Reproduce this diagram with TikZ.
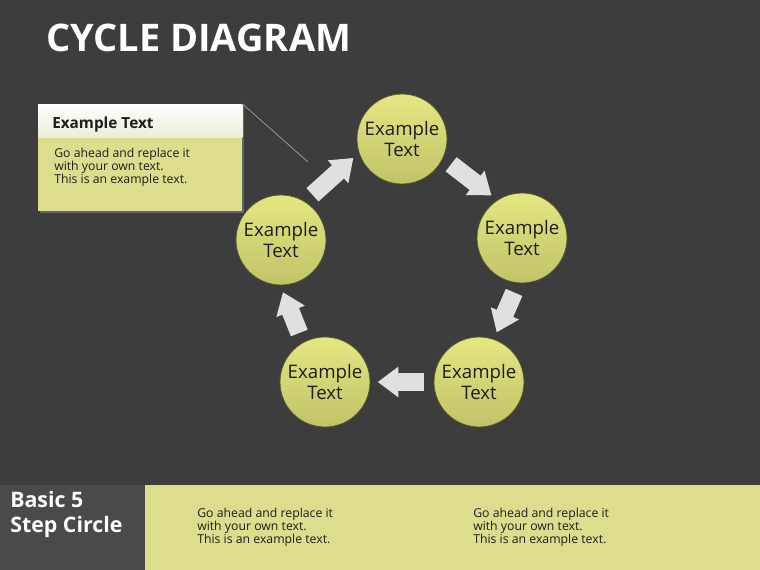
\documentclass[tikz,border=0pt]{standalone}
\usepackage{fontspec}
\setmainfont{Open Sans}
\usetikzlibrary{arrows.meta,positioning,shadows}
\definecolor{CycBg}{HTML}{3D3D3D}
\definecolor{CycPanel}{HTML}{4A4A4A}
\definecolor{CycLime}{HTML}{DCDE8E}
\definecolor{CycBallTop}{HTML}{E4E781}
\definecolor{CycBallLow}{HTML}{C0C368}
\definecolor{CycEdge}{HTML}{55562C}
\definecolor{CycArrow}{HTML}{E0E0E0}
\definecolor{CycInk}{HTML}{1E1E1E}
\definecolor{CycCream}{HTML}{ECEED6}

\begin{document}
\begin{tikzpicture}[x=0.75pt, y=-0.75pt,
    ball/.style={circle, draw=CycEdge, line width=0.6pt, minimum size=67.5pt,
      inner sep=0pt, top color=CycBallTop, bottom color=CycBallLow,
      align=center, text=CycInk, font=\fontsize{14}{15.5}\selectfont},
    flow/.style={-{Triangle[length=15.5pt, width=22pt]}, line width=13.5pt,
      draw=CycArrow, shorten <=7.5pt, shorten >=5.5pt},
    note/.style={align=left, inner sep=0pt, text=CycInk,
      font=\fontsize{9.2}{9.8}\selectfont},
    pointer/.style={draw=gray!70, line width=0.5pt}
  ]
    \useasboundingbox (0,0) rectangle (760,570);
    \fill[CycBg] (0,0) rectangle (760,570);
    % bottom band
    \fill[CycLime] (145,485) rectangle (760,570);
    \fill[CycPanel] (0,485) rectangle (145,570);

    \node[anchor=base west, inner sep=0pt, text=white,
      font=\bfseries\fontsize{28.5}{30}\selectfont] (title) at (46,52) {CYCLE DIAGRAM};

    % the five steps
    \node[ball] (c1) at (402,139) {Example\\Text};
    \node[ball] (c2) at (522,238) {Example\\Text};
    \node[ball] (c3) at (479,382) {Example\\Text};
    \node[ball] (c4) at (325,382) {Example\\Text};
    \node[ball] (c5) at (281,240) {Example\\Text};
    \draw[flow] (c1.335) -- (c2.123);
    \draw[flow] (c2.265) -- (c3.71);
    \draw[flow] (c3.180) -- (c4.0);
    \draw[flow] (c4.119) -- (c5.269);
    \draw[flow] (c5.58) -- (c1.198);

    % callout
    \node[anchor=north west, minimum width=153pt, minimum height=80.25pt,
      fill=CycLime, inner sep=0pt,
      drop shadow={opacity=0.6, shadow xshift=1pt, shadow yshift=-1pt}] (callout) at (38,104) {};
    \node[anchor=north west, minimum width=153pt, minimum height=24.75pt,
      inner sep=0pt, top color=white, bottom color=CycCream] (callhead) at (38,104) {};
    \node[anchor=west, inner sep=0pt, text=CycInk,
      font=\bfseries\fontsize{11.5}{13}\selectfont] (calltitle) at (52,125) {Example Text};
    \node[note, anchor=north west] (calltext) at (54,148)
      {Go ahead and replace it\\with your own text.\\This is an example text.};
    \coordinate (calltip) at (308,162);
    \draw[pointer] (callout.north east) -- (calltip);

    % footer texts
    \node[anchor=north west, align=left, inner sep=0pt, text=white,
      font=\bfseries\fontsize{16}{18.75}\selectfont] (footname) at (10,491) {Basic 5\\Step Circle};
    \node[note, anchor=north west] (foot1) at (197,508)
      {Go ahead and replace it\\with your own text.\\This is an example text.};
    \node[note, anchor=north west] (foot2) at (473,508)
      {Go ahead and replace it\\with your own text.\\This is an example text.};
  \end{tikzpicture}
\end{document}
